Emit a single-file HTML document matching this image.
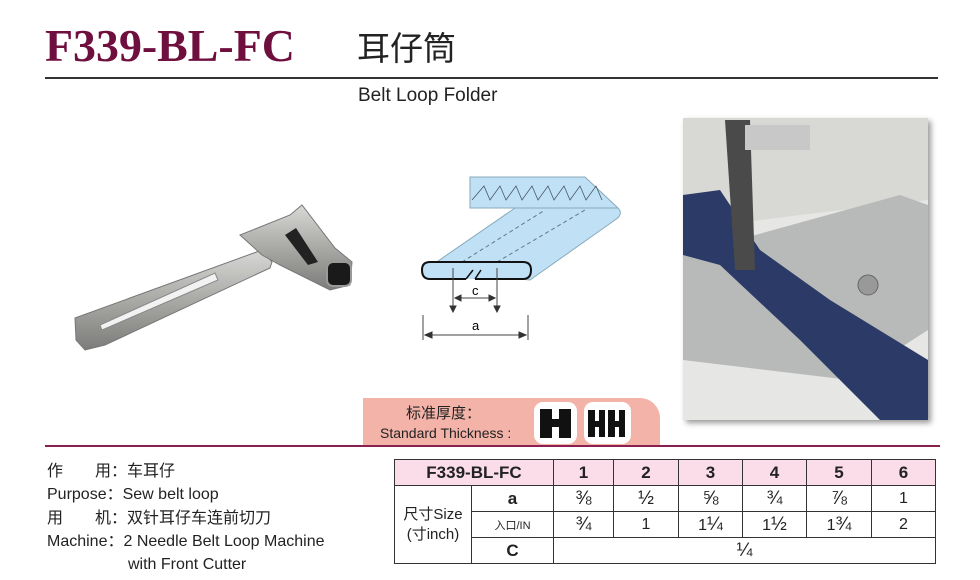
<!DOCTYPE html>
<html><head><meta charset="utf-8"><style>
body{margin:0;width:980px;height:580px;background:#fff;position:relative;overflow:hidden;font-family:"Liberation Sans","Noto Sans CJK SC",sans-serif;color:#222}
.a{position:absolute;white-space:nowrap}
table{position:absolute;left:394px;top:459px;border-collapse:collapse;font-size:16px}
td{border:1.5px solid #333;text-align:center;padding:0;height:25px}
.h td{background:#fbdde9;font-weight:bold;font-size:17px}
.f{font-size:19px}
</style></head><body>
<div class="a" style="left:45px;top:20px;font-family:'Liberation Serif',serif;font-weight:bold;font-size:45px;color:#6e0f3e;transform:scaleX(1.02);transform-origin:left">F339-BL-FC</div>
<div class="a" style="left:357px;top:22px;font-family:'Noto Sans CJK SC',sans-serif;font-size:33px;color:#222">耳仔筒</div>
<div style="position:absolute;left:45px;top:77px;width:893px;height:2px;background:#333"></div>
<div class="a" style="left:358px;top:85px;font-size:19px">Belt Loop Folder</div>

<svg style="position:absolute;left:0;top:0" width="980" height="460">
<defs><linearGradient id="m" x1="0" y1="0" x2="0" y2="1"><stop offset="0" stop-color="#d8d8d6"/><stop offset="0.5" stop-color="#a9a9a6"/><stop offset="1" stop-color="#7c7c7a"/></linearGradient>
<filter id="sh"><feDropShadow dx="3" dy="3" stdDeviation="3" flood-opacity="0.4"/></filter></defs>
<path d="M75 318 L262 250 L272 262 L270 268 L105 345 L85 350 L76 340 Z" fill="url(#m)" stroke="#777"/>
<path d="M100 325 L215 273 L218 280 L102 330 Z" fill="#f2f2f2" stroke="#888"/>
<path d="M240 235 L290 215 L302 205 L335 248 L352 262 L350 285 L330 290 L280 265 L262 255 Z" fill="url(#m)" stroke="#777"/>
<path d="M285 235 L296 228 L318 262 L308 265 Z" fill="#222"/>
<rect x="327" y="262" width="24" height="24" rx="6" fill="#1a1a1a" stroke="#999" stroke-width="2"/>
<g stroke="#333" stroke-width="1">
<path d="M470 177 L585 177 L618 208 L470 208 Z" fill="#bfe0f5" stroke="#8ab"/>
<path d="M515 208 L618 208 Q624 214 615 220 L530 280 L425 270 Z" fill="#bfe0f5" stroke="#8ab"/>
<path d="M472 200 L484 186 L490 200 L500 186 L506 200 L516 186 L522 200 L532 186 L538 200 L548 186 L554 200 L564 186 L570 200 L580 186 L586 200 L596 186 L602 200" fill="none" stroke="#456" stroke-width="0.8"/>
<path d="M462 262 L545 210 M497 262 L585 210" stroke="#678" stroke-dasharray="4 3" fill="none"/>
<path d="M466 279 L430 279 Q422 279 422 270 Q422 262 430 262 L523 262 Q531 262 531 270 Q531 279 523 279 L475 279" fill="#bfe0f5" stroke="#111" stroke-width="2"/>
<path d="M466 279 L473 270 M475 279 L481 270" stroke="#111" stroke-width="1.5"/>
<path d="M453 268 V310 M497 268 V310 M423 315 V340 M528 315 V340" stroke="#444"/>
<path d="M455 298 H495 M425 335 H526" stroke="#444"/>
<path d="M455 298 l6 -3 v6z M495 298 l-6 -3 v6z M425 335 l7 -3 v6z M526 335 l-7 -3 v6z M453 312 l-3 -6 h6z M497 312 l-3 -6 h6z" fill="#333"/>
</g>
<text x="472" y="295" font-size="13" font-family="Liberation Sans">c</text>
<text x="472" y="330" font-size="13" font-family="Liberation Sans">a</text>
<g filter="url(#sh)"><rect x="683" y="118" width="245" height="302" fill="#e8e8e8"/></g>
<rect x="683" y="118" width="245" height="302" fill="#e6e6e4"/>
<path d="M683 118 H928 V200 L800 215 L683 230 Z" fill="#d8d8d4"/>
<path d="M683 255 L900 195 L928 205 V330 L850 380 L683 360 Z" fill="#b8bab9"/>
<path d="M683 195 L720 190 L760 250 L830 300 L928 360 V420 L880 420 L800 340 L720 265 L683 255 Z" fill="#2b3a66"/>
<path d="M725 120 L750 120 L755 270 L735 270 Z" fill="#4a4a4a"/>
<rect x="745" y="125" width="65" height="25" fill="#c8c8c8"/>
<circle cx="868" cy="285" r="10" fill="#999" stroke="#666"/>
</svg>

<div style="position:absolute;left:363px;top:398px;width:297px;height:48px;background:#f3b3a8;border-radius:0 20px 0 0"></div>
<div class="a" style="left:406px;top:402px;font-size:15px">标准厚度：</div>
<div class="a" style="left:380px;top:425px;font-size:14px">Standard Thickness :</div>
<div style="position:absolute;left:534px;top:402px;width:43px;height:42px;background:#fff;border-radius:9px"></div>
<div style="position:absolute;left:584px;top:402px;width:47px;height:42px;background:#fff;border-radius:9px"></div>
<svg style="position:absolute;left:534px;top:402px" width="100" height="42">
<path d="M6 7h12v10h7v-10h12v29h-12v-11h-7v11h-12z" fill="#111"/>
<path d="M54 8h7v11h4v-11h6v27h-6v-10h-4v10h-7z M74 8h7v11h4v-11h6v27h-6v-10h-4v10h-7z" fill="#111"/>
</svg>
<div style="position:absolute;left:45px;top:445px;width:895px;height:2px;background:#8a2050"></div>

<div class="a" style="left:47px;top:460px;font-size:16px;line-height:23.3px">作　　用：车耳仔<br>Purpose：Sew belt loop<br>用　　机：双针耳仔车连前切刀<br>Machine：2 Needle Belt Loop Machine<br><span style="padding-left:81px">with Front Cutter</span></div>

<table>
<tr class="h"><td colspan="2" style="width:158px">F339-BL-FC</td><td style="width:59px">1</td><td style="width:64px">2</td><td style="width:63px">3</td><td style="width:63px">4</td><td style="width:64px">5</td><td style="width:63px">6</td></tr>
<tr><td rowspan="3" style="width:76px;line-height:20px;font-size:15px">尺寸Size<br>(寸inch)</td><td style="font-weight:bold;font-size:17px">a</td><td class="f">⅜</td><td class="f">½</td><td class="f">⅝</td><td class="f">¾</td><td class="f">⅞</td><td>1</td></tr>
<tr><td style="font-size:11px">入口/IN</td><td class="f">¾</td><td>1</td><td>1<span class="f">¼</span></td><td>1<span class="f">½</span></td><td>1<span class="f">¾</span></td><td>2</td></tr>
<tr><td style="font-weight:bold;font-size:17px">C</td><td colspan="6" class="f">¼</td></tr>
</table>
</body></html>
